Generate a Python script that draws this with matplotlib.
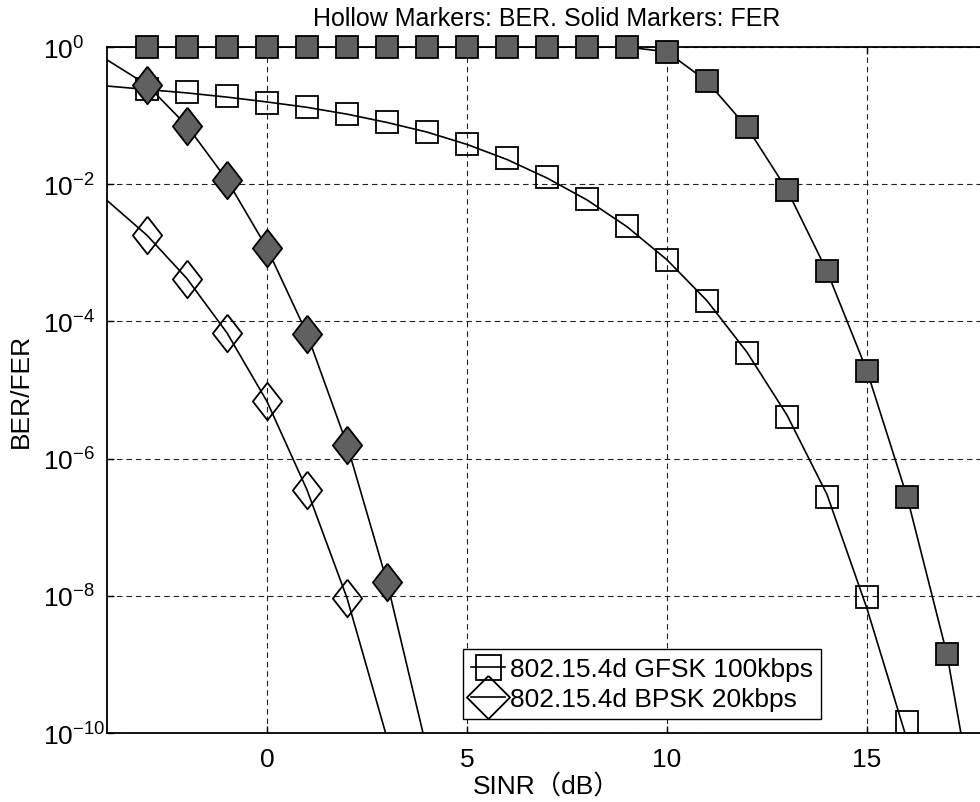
import matplotlib
matplotlib.use("Agg")
import matplotlib.pyplot as plt
from matplotlib.ticker import NullLocator

plt.rcParams['font.family'] = ['Liberation Sans', 'Noto Sans CJK JP']
plt.rcParams['mathtext.default'] = 'regular'
plt.rcParams['axes.unicode_minus'] = True

# simulated points (markers)
snr_gfsk_ber = list(range(-3, 17))
gfsk_ber = [0.245, 0.224, 0.191, 0.151, 0.133, 0.105, 0.0794, 0.0575, 0.0389, 0.0240,
            0.0126, 6.0e-3, 2.45e-3, 7.9e-4, 2.0e-4, 3.5e-5, 4.1e-6, 2.75e-7, 9.5e-9, 1.45e-10]
snr_gfsk_fer = list(range(-3, 18))
gfsk_fer = [1.0, 1.0, 1.0, 1.0, 1.0, 1.0, 1.0, 1.0, 1.0, 1.0, 1.0, 1.0, 1.0,
            0.845, 0.316, 0.0676, 8.3e-3, 5.4e-4, 1.9e-5, 2.8e-7, 1.4e-9]
snr_bpsk_ber = [-3, -2, -1, 0, 1, 2]
bpsk_ber = [1.8e-3, 4.2e-4, 6.8e-5, 6.8e-6, 3.5e-7, 9.3e-9]
snr_bpsk_fer = [-3, -2, -1, 0, 1, 2, 3]
bpsk_fer = [0.28, 0.071, 0.0115, 1.17e-3, 6.6e-5, 1.6e-6, 1.6e-8]

# analytic curves (lines)
snr_gfsk_ber_line = list(range(-4, 17))
gfsk_ber_line = [0.27, 0.24, 0.214, 0.186, 0.158, 0.132, 0.105, 0.0794, 0.0575, 0.038,
                 0.0229, 0.0123, 5.9e-3, 2.4e-3, 7.9e-4, 2.0e-4, 3.55e-5, 4.3e-6, 3.0e-7,
                 6.5e-9, 8e-11]
snr_gfsk_fer_line = list(range(-4, 19))
gfsk_fer_line = [1.0, 1.0, 1.0, 1.0, 1.0, 1.0, 1.0, 1.0, 1.0, 1.0, 1.0, 1.0, 1.0, 1.0,
                 0.85, 0.316, 0.0676, 8.3e-3, 5.4e-4, 1.9e-5, 2.8e-7, 1.4e-9, 7e-13]
snr_bpsk_ber_line = [-4, -3, -2, -1, 0, 1, 2, 3]
bpsk_ber_line = [5.8e-3, 1.8e-3, 4.2e-4, 6.8e-5, 6.8e-6, 3.5e-7, 9.3e-9, 8.5e-11]
snr_bpsk_fer_line = [-4, -3, -2, -1, 0, 1, 2, 3, 4]
bpsk_fer_line = [0.65, 0.28, 0.071, 0.0115, 1.17e-3, 6.6e-5, 1.6e-6, 1.6e-8, 5.7e-11]

legend_labels = ["802.15.4d GFSK 100kbps", "802.15.4d BPSK 20kbps"]

solid = "#606060"
diamond = [(0, 1), (0.78, 0), (0, -1), (-0.78, 0), (0, 1)]

fig = plt.figure(figsize=(9.8, 8.03), dpi=100)
ax = fig.add_axes([107 / 980, 69 / 803, 880 / 980, 686 / 803])

ax.plot(snr_gfsk_ber_line, gfsk_ber_line, color="black", lw=1.2, zorder=3)
ax.plot(snr_gfsk_fer_line, gfsk_fer_line, color="black", lw=1.2, zorder=3)
ax.plot(snr_bpsk_ber_line, bpsk_ber_line, color="black", lw=1.2, zorder=3)
ax.plot(snr_bpsk_fer_line, bpsk_fer_line, color="black", lw=1.2, zorder=3)

ax.plot(snr_gfsk_ber, gfsk_ber, "s", ms=16, mfc="none", mec="black", mew=1.3, zorder=4, clip_on=False)
ax.plot(snr_gfsk_fer, gfsk_fer, "s", ms=16, mfc=solid, mec="black", mew=1.3, zorder=5, clip_on=False)
ax.plot(snr_bpsk_ber, bpsk_ber, marker=diamond, ls="none", ms=27, mfc="none", mec="black", mew=1.3, zorder=4)
ax.plot(snr_bpsk_fer, bpsk_fer, marker=diamond, ls="none", ms=27, mfc=solid, mec="black", mew=1.3, zorder=5)

# legend proxies
h1, = ax.plot([], [], "s-", color="black", ms=18, mfc="none", mew=1.3, lw=1.2)
h2, = ax.plot([], [], marker=[(0, 1), (1, 0), (0, -1), (-1, 0), (0, 1)], ls="-", color="black",
              ms=31, mfc="none", mew=1.3, lw=1.2)
leg = ax.legend([h1, h2], legend_labels, loc="lower left", bbox_to_anchor=(0.4045, 0.0204),
                borderaxespad=0, fontsize=19, fancybox=False, framealpha=1, edgecolor="black",
                handlelength=1.3, handletextpad=0.2, labelspacing=0.22, borderpad=0.3)
leg.get_frame().set_linewidth(1.0)
leg.set_zorder(6)

ax.set_yscale("log")
ax.set_xlim(-4, 18)
ax.set_ylim(1e-10, 1)
ax.set_xticks([0, 5, 10, 15])
ax.set_yticks([1e0, 1e-2, 1e-4, 1e-6, 1e-8, 1e-10])
ax.yaxis.set_minor_locator(NullLocator())
ax.tick_params(direction="in", length=5, width=1, top=True, right=True, labelsize=19)
ax.tick_params(axis="x", pad=10)
ax.tick_params(axis="y", pad=46)
for lab in ax.get_yticklabels():
    lab.set_horizontalalignment("left")
ax.grid(True, color="#222222", ls=(0, (5, 3.5)), lw=0.8)
ax.set_axisbelow(True)
for s in ax.spines.values():
    s.set_linewidth(1.3)

ax.set_xlabel("SINR（dB）", fontsize=19, labelpad=2)
ax.set_ylabel("BER/FER", fontsize=19)
ax.yaxis.set_label_coords(-0.084, 0.5)
ax.set_title("Hollow Markers: BER. Solid Markers: FER", fontsize=18, pad=16)

fig.savefig("out.png", dpi=100)
